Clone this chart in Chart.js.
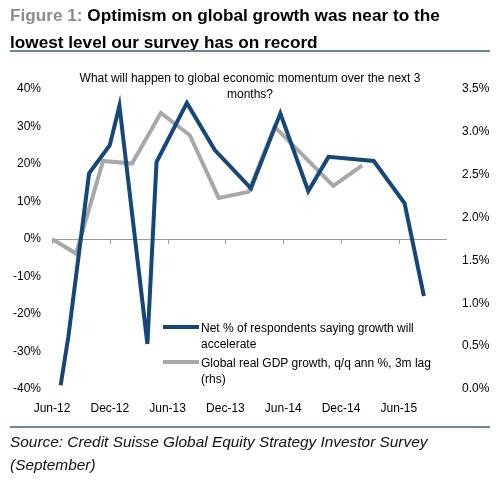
<!DOCTYPE html>
<html>
<head>
<meta charset="utf-8">
<script src="https://cdn.jsdelivr.net/npm/chart.js@4.4.0/dist/chart.umd.min.js"></script>
<style>
  html, body { margin: 0; padding: 0; background: #fff; }
  body { width: 500px; height: 484px; position: relative; overflow: hidden; font-family: "Liberation Sans", Arial, sans-serif; color: #000; }
  #c { position: absolute; left: 0; top: 0; }
  .title { position: absolute; left: 10px; top: 2px; font-weight: bold; font-size: 17.2px; line-height: 27px; white-space: nowrap; }
  .title .fig { color: #8c8c8c; }
  .rule { position: absolute; left: 10px; width: 480px; height: 1.5px; background: #6a879e; }
  .sub { position: absolute; left: 50px; width: 400px; top: 70px; text-align: center; font-size: 12px; line-height: 16px; }
  .leg { position: absolute; left: 201px; font-size: 12px; line-height: 16px; white-space: nowrap; }
  .sw { position: absolute; left: 163px; width: 36px; height: 4px; }
  .src { position: absolute; left: 10px; top: 430px; font-style: italic; font-size: 15.4px; line-height: 23px; white-space: nowrap; color: #111; }
</style>
</head>
<body>
<canvas id="c" width="500" height="484"></canvas>
<div class="title"><span class="fig">Figure 1:</span> Optimism on global growth was near to the<br>lowest level our survey has on record</div>
<div class="rule" style="top:50px"></div>
<div class="sub">What will happen to global economic momentum over the next 3<br>months?</div>
<div class="sw" id="sw1" style="top:325px"></div>
<div class="leg" id="lg1" style="top:320px"></div>
<div class="sw" id="sw2" style="top:360px"></div>
<div class="leg" id="lg2" style="top:355px"></div>
<div class="rule" style="top:426px"></div>
<div class="src">Source: Credit Suisse Global Equity Strategy Investor Survey<br>(September)</div>
<script>
// Month index: 0 = Jun-12
const tickLabels = ['Jun-12', 'Dec-12', 'Jun-13', 'Dec-13', 'Jun-14', 'Dec-14', 'Jun-15'];

const surveyMonths = [0.9, 1.7, 3.85, 6.0, 7.0, 9.9, 10.85, 14.0, 16.9, 20.65, 23.7, 26.6, 28.7, 33.4, 36.6, 38.6];
const surveyNet    = [-39, -26, 17.5, 25, 35.5, -28, 20.5, 36.3, 23.7, 13.5, 33.5, 12.8, 21.9, 20.8, 9.5, -15.2];

const gdpMonths = [0, 2.5, 5.3, 8.3, 11.3, 14.3, 17.3, 20.4, 23.1, 29.2, 32.2];
const gdpGrowth = [1.75, 1.58, 2.66, 2.63, 3.22, 2.96, 2.23, 2.30, 3.06, 2.37, 2.61];

const seriesNames = [
  'Net % of respondents saying growth will<br>accelerate',
  'Global real GDP growth, q/q ann %, 3m lag<br>(rhs)'
];
const BLUE = '#17467a';
const GREY = '#a8a8a8';

document.getElementById('lg1').innerHTML = seriesNames[0];
document.getElementById('lg2').innerHTML = seriesNames[1];
document.getElementById('sw1').style.background = BLUE;
document.getElementById('sw2').style.background = GREY;

const zeroTicks = {
  id: 'zeroTicks',
  beforeDatasetsDraw(chart) {
    const x = chart.scales.x, y = chart.scales.yL;
    const y0 = y.getPixelForValue(0);
    const ctx = chart.ctx;
    ctx.save();
    ctx.strokeStyle = '#9a9a9a';
    ctx.lineWidth = 1;
    x.ticks.forEach(t => {
      const px = Math.round(x.getPixelForValue(t.value)) + 0.5;
      ctx.beginPath();
      ctx.moveTo(px, y0);
      ctx.lineTo(px, y0 + 5);
      ctx.stroke();
    });
    ctx.restore();
  }
};

const tickFont = { family: '"Liberation Sans", Arial, sans-serif', size: 12 };

new Chart(document.getElementById('c'), {
  type: 'line',
  data: {
    datasets: [
      {
        label: 'Net',
        data: surveyMonths.map((m, i) => ({ x: m, y: surveyNet[i] })),
        yAxisID: 'yL',
        borderColor: BLUE,
        borderWidth: 4,
        pointRadius: 0,
        tension: 0,
        fill: false
      },
      {
        label: 'GDP',
        data: gdpMonths.map((m, i) => ({ x: m, y: gdpGrowth[i] })),
        yAxisID: 'yR',
        borderColor: GREY,
        borderWidth: 4,
        pointRadius: 0,
        tension: 0,
        fill: false
      }
    ]
  },
  options: {
    responsive: false,
    animation: false,
    layout: { padding: { top: 89, bottom: 65, left: 0, right: 0 } },
    plugins: { legend: { display: false }, tooltip: { enabled: false } },
    scales: {
      x: {
        type: 'linear',
        min: 0,
        max: 41,
        grid: { display: false },
        border: { display: false },
        ticks: {
          stepSize: 6,
          includeBounds: false,
          autoSkip: false,
          maxRotation: 0,
          padding: 4,
          color: '#000',
          font: tickFont,
          callback: v => (v % 6 === 0 && tickLabels[v / 6] !== undefined) ? tickLabels[v / 6] : ''
        },
        afterFit: s => { s.height = 30; }
      },
      yL: {
        position: 'left',
        min: -40,
        max: 40,
        grid: {
          drawTicks: false,
          color: c => c.tick && c.tick.value === 0 ? '#9a9a9a' : 'rgba(0,0,0,0)',
          lineWidth: 1
        },
        border: { display: false },
        ticks: { stepSize: 10, padding: 11, color: '#000', font: tickFont, callback: v => v + '%' },
        afterFit: s => { s.width = 52; }
      },
      yR: {
        position: 'right',
        min: 0,
        max: 3.5,
        grid: { display: false },
        border: { display: false },
        ticks: { stepSize: 0.5, padding: 7, color: '#000', font: tickFont, callback: v => v.toFixed(1) + '%' },
        afterFit: s => { s.width = 53; }
      }
    }
  },
  plugins: [zeroTicks]
});
</script>
</body>
</html>
